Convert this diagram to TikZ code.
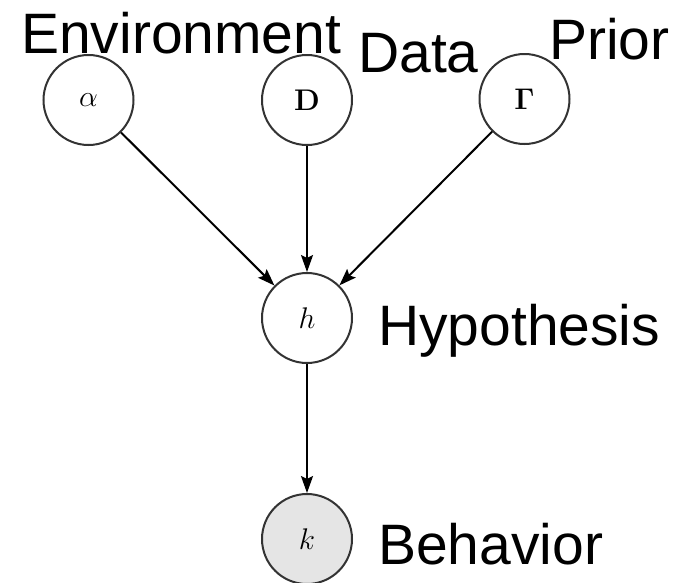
\RequirePackage{fix-cm}
\documentclass[tikz,border=0pt]{standalone}
\usepackage{amsmath}
\usepackage{graphicx}
\usepackage[no-math]{fontspec}
\setmainfont{Liberation Sans}
\usetikzlibrary{arrows.meta}

% symbol inside a circle: math at 24.88pt, enlarged to about 30pt
\newcommand{\nodesym}[1]{\scalebox{1.2}{$#1$}}

\tikzset{
  var/.style={circle, draw=black!80, line width=2pt, minimum size=90pt,
    inner sep=0pt, fill=white, font=\fontsize{24.88}{30}\selectfont},
  observed/.style={var, fill=black!10},
  label/.style={anchor=base west, inner sep=0pt,
    font=\fontsize{57}{57}\selectfont},
  arr/.style={-{Stealth[length=17pt,width=12pt,inset=3pt]}, line width=2pt}
}

\begin{document}
\begin{tikzpicture}[x=1pt,y=-1pt]
  \useasboundingbox (0,0) rectangle (677,582);

  % variables of the model
  \node[var] (alpha) at (88.5,100) {\nodesym{\alpha}};
  \node[var] (data)  at (307,100) {\nodesym{\mathbf{D}}};
  \node[var] (prior) at (524.5,99) {\nodesym{\mathbf{\Gamma}}};
  \node[var] (hyp)   at (307,318) {\nodesym{h}};
  \node[observed] (beh) at (307,539) {\nodesym{k}};

  % names of the variables
  \node[label] (lalpha) at (21,53)  {Environment};
  \node[label] (ldata)  at (358,72) {Data};
  \node[label] (lprior) at (549,59) {Prior};
  \node[label] (lhyp)   at (378,345) {Hypothesis};
  \node[label] (lbeh)   at (378,564) {Behavior};

  % dependencies
  \draw[arr] (alpha) -- (hyp);
  \draw[arr] (data)  -- (hyp);
  \draw[arr] (prior) -- (hyp);
  \draw[arr] (hyp)   -- (beh);
\end{tikzpicture}
\end{document}
